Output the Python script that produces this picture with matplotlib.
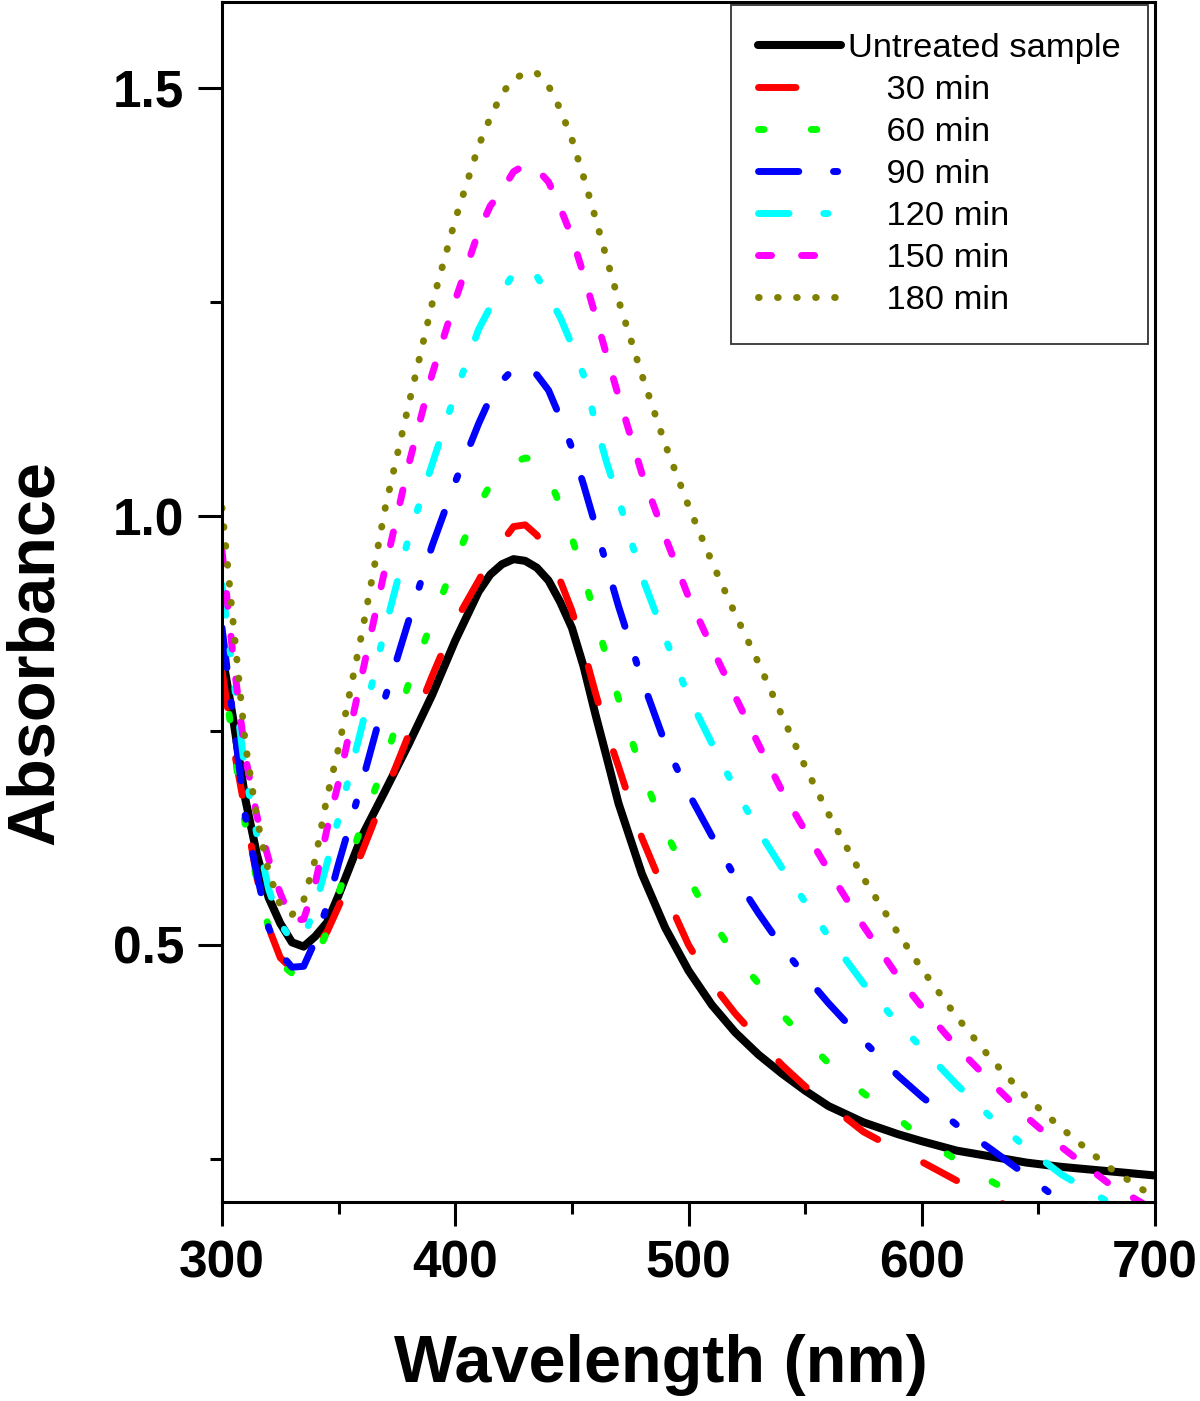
import matplotlib
matplotlib.use("Agg")
import matplotlib.pyplot as plt
from matplotlib.ticker import MultipleLocator, FormatStrFormatter

plt.rcParams['font.family'] = ['Liberation Sans', 'DejaVu Sans']
plt.rcParams['lines.scale_dashes'] = False  # dash lengths in points

# wavelength grid (nm) and absorbance
wavelength = [300, 305, 310, 315, 320, 325, 330, 335, 340, 345, 350, 360, 370, 380, 390,
              400, 410, 415, 420, 425, 430, 435, 440, 445, 450, 455, 460, 465, 470, 480,
              490, 500, 510, 520, 530, 540, 550, 560, 575, 590, 600, 615, 630, 645, 660,
              680, 700]

untreated = [0.84, 0.76, 0.67, 0.605, 0.555, 0.525, 0.503, 0.498, 0.51, 0.526, 0.558, 0.627,
             0.68, 0.734, 0.791, 0.855, 0.912, 0.932, 0.944, 0.95, 0.948, 0.94, 0.925, 0.9,
             0.87, 0.825, 0.77, 0.718, 0.665, 0.583, 0.52, 0.47, 0.43, 0.398, 0.372, 0.35,
             0.33, 0.312, 0.293, 0.279, 0.271, 0.26, 0.253, 0.246, 0.241, 0.236, 0.231]
min30 = [0.82, 0.73, 0.655, 0.578, 0.52, 0.485, 0.472, 0.48, 0.497, 0.515, 0.545, 0.608,
         0.677, 0.745, 0.813, 0.877, 0.925, 0.95, 0.97, 0.988, 0.99, 0.978, 0.955, 0.925,
         0.89, 0.845, 0.795, 0.748, 0.708, 0.625, 0.56, 0.5, 0.455, 0.42, 0.39, 0.36,
         0.335, 0.314, 0.282, 0.26, 0.247, 0.225, 0.204, 0.185, 0.17, 0.155, 0.14]
min60 = [0.83, 0.73, 0.64, 0.575, 0.52, 0.478, 0.467, 0.475, 0.485, 0.515, 0.56, 0.64,
         0.714, 0.805, 0.877, 0.948, 1.012, 1.037, 1.052, 1.063, 1.068, 1.066, 1.045, 1.013,
         0.975, 0.932, 0.883, 0.834, 0.787, 0.702, 0.633, 0.578, 0.528, 0.488, 0.455, 0.419,
         0.39, 0.362, 0.327, 0.297, 0.275, 0.249, 0.224, 0.201, 0.18, 0.16, 0.14]
min90 = [0.87, 0.76, 0.65, 0.582, 0.52, 0.49, 0.474, 0.475, 0.505, 0.545, 0.595, 0.689,
         0.789, 0.878, 0.965, 1.04, 1.108, 1.138, 1.158, 1.172, 1.176, 1.165, 1.147, 1.115,
         1.08, 1.037, 0.99, 0.942, 0.895, 0.81, 0.735, 0.677, 0.627, 0.579, 0.537, 0.498,
         0.464, 0.432, 0.388, 0.347, 0.323, 0.29, 0.261, 0.231, 0.2, 0.175, 0.15]
min120 = [0.92, 0.81, 0.7, 0.628, 0.565, 0.525, 0.505, 0.508, 0.545, 0.595, 0.648, 0.755,
          0.87, 0.975, 1.06, 1.143, 1.218, 1.244, 1.262, 1.283, 1.29, 1.28, 1.257, 1.232,
          1.2, 1.165, 1.11, 1.062, 1.02, 0.93, 0.858, 0.79, 0.735, 0.682, 0.633, 0.59,
          0.55, 0.51, 0.455, 0.408, 0.38, 0.337, 0.298, 0.263, 0.232, 0.2, 0.17]
min150 = [0.96, 0.83, 0.72, 0.65, 0.6, 0.56, 0.528, 0.53, 0.572, 0.635, 0.69, 0.815,
          0.94, 1.06, 1.165, 1.252, 1.332, 1.362, 1.38, 1.402, 1.41, 1.405, 1.39, 1.36,
          1.326, 1.282, 1.235, 1.187, 1.14, 1.05, 0.976, 0.906, 0.847, 0.79, 0.734, 0.68,
          0.633, 0.587, 0.522, 0.462, 0.428, 0.381, 0.339, 0.299, 0.264, 0.222, 0.19]
min180 = [1.01, 0.87, 0.735, 0.647, 0.585, 0.546, 0.535, 0.552, 0.6, 0.672, 0.73, 0.864,
          1.01, 1.13, 1.247, 1.346, 1.432, 1.465, 1.493, 1.51, 1.517, 1.517, 1.502, 1.475,
          1.44, 1.396, 1.349, 1.3, 1.252, 1.165, 1.084, 1.012, 0.947, 0.886, 0.829, 0.768,
          0.708, 0.653, 0.578, 0.513, 0.472, 0.416, 0.366, 0.322, 0.286, 0.241, 0.205]

series = [untreated, min30, min60, min90, min120, min150, min180]
labels = ["Untreated sample", "    30 min", "    60 min", "    90 min",
          "    120 min", "    150 min", "    180 min"]
colors = ["black", "#FF0000", "#00FF00", "#0000FF", "#00FFFF", "#FF00FF", "#808000"]
dash_styles = [None, (27, 37), (4, 34), (29, 25, 3, 25), (22, 25, 3, 25, 3, 25),
               (9.4, 21.6), (0.5, 13.2)]

fig = plt.figure(figsize=(12, 14.01), dpi=100)
ax = fig.add_axes([0.185, 0.142, 0.7775, 0.8566])

for y, lab, col, ds in zip(series, labels, colors, dash_styles):
    if ds is None:
        ax.plot(wavelength, y, color=col, lw=5.8, label=lab, solid_capstyle='round',
                solid_joinstyle='round')
    else:
        ax.plot(wavelength, y, color=col, lw=5, label=lab, dashes=ds,
                dash_capstyle='round', dash_joinstyle='round')

ax.set_xlim(300, 700)
ax.set_ylim(0.2, 1.6)
ax.xaxis.set_major_locator(MultipleLocator(100))
ax.xaxis.set_minor_locator(MultipleLocator(50))
ax.yaxis.set_major_locator(MultipleLocator(0.5))
ax.yaxis.set_minor_locator(MultipleLocator(0.25))
ax.yaxis.set_major_formatter(FormatStrFormatter('%.1f'))

ax.tick_params(which='both', direction='out', top=False, right=False, width=2.2)
ax.tick_params(which='major', length=17, labelsize=37, pad=10)
ax.tick_params(which='minor', length=8.6)
for t in ax.get_xticklabels() + ax.get_yticklabels():
    t.set_fontweight('bold')
for s in ax.spines.values():
    s.set_linewidth(2.2)

ax.set_xlabel("Wavelength (nm)", fontsize=48, fontweight='bold', va='center')
ax.set_ylabel("Absorbance", fontsize=48, fontweight='bold', va='center')
ax.xaxis.set_label_coords(0.47, -0.136)
ax.yaxis.set_label_coords(-0.2, 0.458)

leg = ax.legend(loc='upper right', bbox_to_anchor=(0.9925, 0.9975), borderaxespad=0,
                fontsize=24.8, frameon=True, fancybox=False, handlelength=2.4,
                handletextpad=0.2, labelspacing=0.32, borderpad=0.8)
leg.get_frame().set_edgecolor('black')
leg.get_frame().set_linewidth(1.3)

fig.savefig("out.png", dpi=100)
